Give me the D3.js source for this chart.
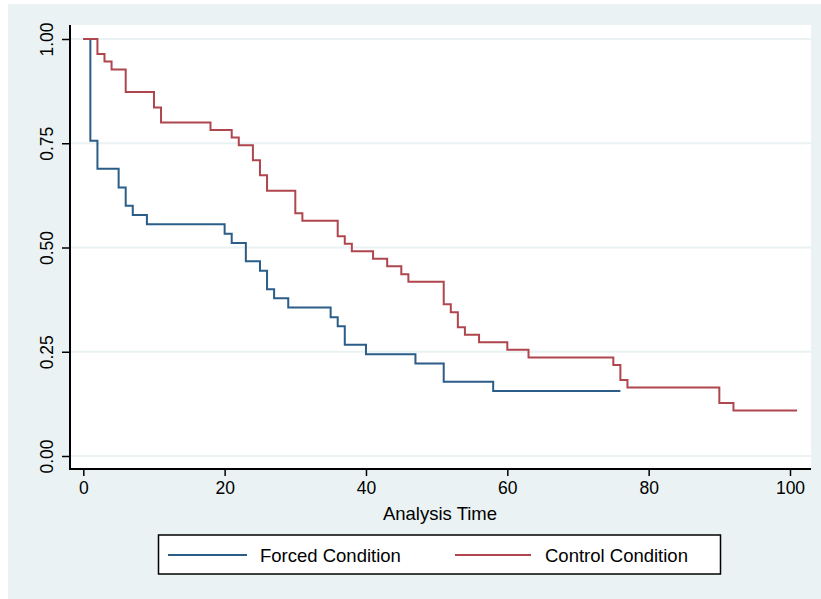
<!DOCTYPE html>
<html>
<head>
	<meta charset="utf-8">
	<title>Survival</title>
	<script src="https://d3js.org/d3.v7.min.js"></script>
	<style>
		body { margin: 0; background: #fff; }
		text { font-family: "Liberation Sans", Arial, Helvetica, sans-serif; fill: #000; }
	</style>
</head>
<body>
</body>
<script>
	// Forced Condition (blue)
	var forcedTime = [0, 1, 2, 5, 6, 7, 9, 20, 21, 23, 25, 26, 27, 29, 35, 36, 37, 40, 47, 51, 58, 76];
	var forcedSurv = [1, 0.756, 0.689, 0.644, 0.600, 0.578, 0.556, 0.533, 0.511, 0.467, 0.444, 0.400, 0.378, 0.356, 0.333, 0.311, 0.267, 0.244, 0.222, 0.178, 0.156, 0.156];

	// Control Condition (red)
	var controlTime = [0, 2, 3, 4, 6, 10, 11, 18, 21, 22, 24, 25, 26, 30, 31, 36, 37, 38, 41, 43, 45, 46, 51, 52, 53, 54, 56, 60, 63, 75, 76, 77, 90, 92, 101];
	var controlSurv = [1, 0.964, 0.946, 0.927, 0.873, 0.836, 0.800, 0.782, 0.764, 0.745, 0.709, 0.673, 0.636, 0.582, 0.564, 0.527, 0.509, 0.491, 0.473, 0.455, 0.436, 0.418, 0.364, 0.345, 0.309, 0.291, 0.273, 0.255, 0.236, 0.218, 0.182, 0.164, 0.127, 0.109, 0.109];

	var xTicks = [0, 20, 40, 60, 80, 100];
	var yTicks = [0, 0.25, 0.5, 0.75, 1];
	var seriesNames = ["Forced Condition", "Control Condition"];
	var xTitle = "Analysis Time";

	var W = 821, H = 599;
	var blue = "#2a5d88", red = "#b0464d", bg = "#eaf2f3";

	var svg = d3.select("body").append("svg").attr("width", W).attr("height", H);

	// outer background
	svg.append("rect").attr("x", 8).attr("y", 4).attr("width", W - 8).attr("height", H - 4).attr("fill", bg);

	// plot region
	var pl = 70, pr = 811, pt = 25, pb = 469;
	svg.append("rect").attr("x", pl).attr("y", pt).attr("width", pr - pl).attr("height", pb - pt).attr("fill", "#fff");

	var x = d3.scaleLinear().domain([0, 100]).range([83.3, 790]);
	var y = d3.scaleLinear().domain([0, 1]).range([456, 39]);

	// gridlines
	svg.append("g").selectAll("line").data(yTicks).enter().append("line")
		.attr("x1", pl).attr("x2", pr)
		.attr("y1", function(d){ return y(d); }).attr("y2", function(d){ return y(d); })
		.attr("stroke", bg).attr("stroke-width", 2);

	// step lines
	var line = d3.line().curve(d3.curveStepAfter)
		.x(function(d){ return x(d[0]); }).y(function(d){ return y(d[1]); });

	var forced = d3.zip(forcedTime, forcedSurv);
	var control = d3.zip(controlTime, controlSurv);

	svg.append("path").datum(forced).attr("d", line).attr("fill", "none")
		.attr("stroke", blue).attr("stroke-width", 2);
	svg.append("path").datum(control).attr("d", line).attr("fill", "none")
		.attr("stroke", red).attr("stroke-width", 2);

	// axes
	var xAxisG = svg.append("g").attr("transform", "translate(0," + pb + ")")
		.call(d3.axisBottom(x).tickValues(xTicks).tickSize(7).tickSizeOuter(0).tickPadding(4).tickFormat(d3.format("d")));
	xAxisG.select(".domain").remove();
	xAxisG.selectAll(".tick line").attr("stroke", "#000").attr("stroke-width", 1.5);
	xAxisG.selectAll(".tick text").attr("font-size", "17.5px").attr("font-family", null).attr("dy", null).attr("y", 25);

	var yAxisG = svg.append("g").attr("transform", "translate(" + pl + ",0)")
		.call(d3.axisLeft(y).tickValues(yTicks).tickSize(8).tickSizeOuter(0).tickFormat(d3.format(".2f")));
	yAxisG.select(".domain").remove();
	yAxisG.selectAll(".tick line").attr("stroke", "#000").attr("stroke-width", 1.5);
	yAxisG.selectAll(".tick text").attr("font-size", "17.5px").attr("font-family", null)
		.attr("x", null).attr("dy", null).attr("text-anchor", "middle")
		.attr("transform", "translate(-17,0) rotate(-90)");

	// axis lines
	svg.append("line").attr("x1", pl).attr("x2", pl).attr("y1", pt).attr("y2", pb + 1)
		.attr("stroke", "#000").attr("stroke-width", 2);
	svg.append("line").attr("x1", pl - 1).attr("x2", pr).attr("y1", pb).attr("y2", pb)
		.attr("stroke", "#000").attr("stroke-width", 2);

	// x title
	svg.append("text").attr("x", 440).attr("y", 520).attr("text-anchor", "middle")
		.attr("font-size", "18.5px").text(xTitle);

	// legend
	var lg = svg.append("g");
	lg.append("rect").attr("x", 158.5).attr("y", 535).attr("width", 562).attr("height", 39)
		.attr("fill", "#fff").attr("stroke", "#000").attr("stroke-width", 1.5);
	var items = [{name: seriesNames[0], color: blue, x0: 168, x1: 247, tx: 260},
		{name: seriesNames[1], color: red, x0: 455, x1: 531, tx: 545}];
	items.forEach(function(it){
		lg.append("line").attr("x1", it.x0).attr("x2", it.x1).attr("y1", 555).attr("y2", 555)
			.attr("stroke", it.color).attr("stroke-width", 2);
		lg.append("text").attr("x", it.tx).attr("y", 561.5).attr("font-size", "18.5px").text(it.name);
	});
</script>
</html>
